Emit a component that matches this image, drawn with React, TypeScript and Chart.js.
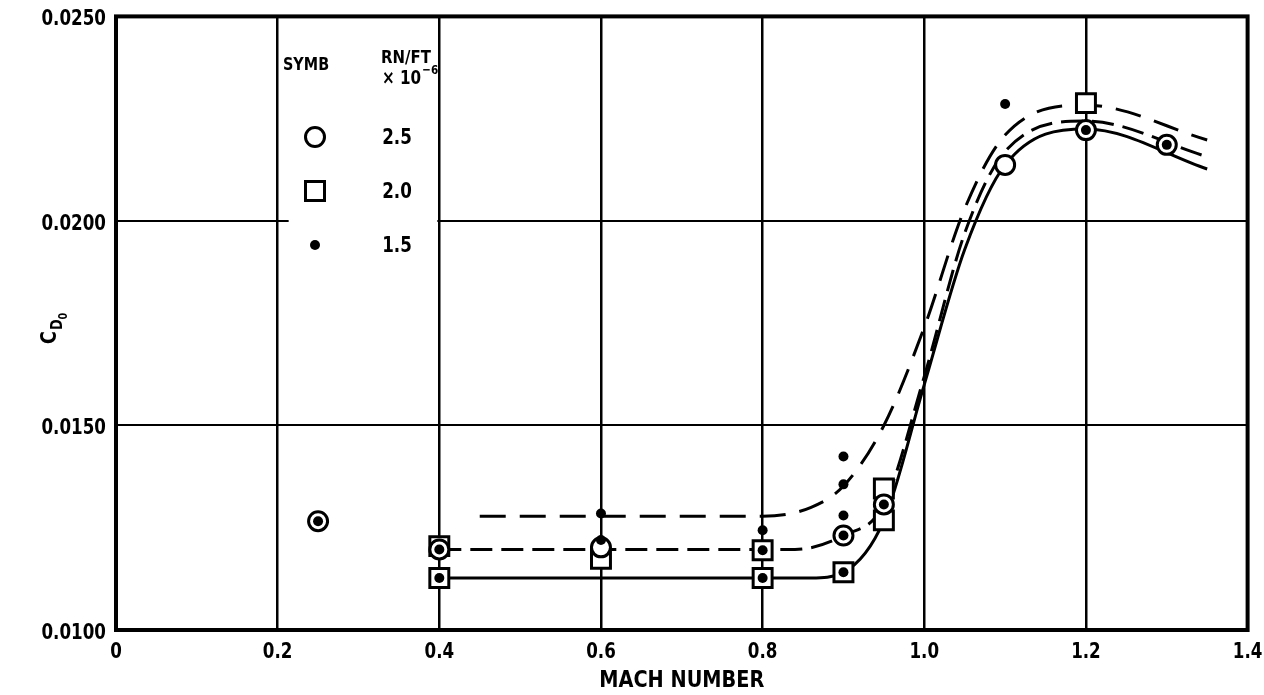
import React, { useEffect, useRef } from 'react';
import { Chart, registerables } from 'chart.js';

Chart.register(...registerables);

const FAMILY = '"DejaVu Sans", sans-serif';
const F = (size: number) => `bold ${size}px ${FAMILY}`;

// Axis tick labels
const xTickLabels = ['0', '0.2', '0.4', '0.6', '0.8', '1.0', '1.2', '1.4'];
const yTickLabels = ['0.0100', '0.0150', '0.0200', '0.0250'];

// RN/FT x 10^-6 = 2.5 (open circles)
const circleMach = [0.25, 0.4, 0.6, 0.9, 0.95, 1.1, 1.2, 1.3];
const circleCD0 = [0.01266, 0.01197, 0.01202, 0.01231, 0.01307, 0.02137, 0.02222, 0.02186];

// RN/FT x 10^-6 = 2.0 (squares)
const squareMach = [0.4, 0.4, 0.6, 0.8, 0.8, 0.9, 0.95, 0.95, 1.2];
const squareCD0 = [0.01205, 0.01127, 0.01174, 0.01195, 0.01127, 0.01141, 0.01346, 0.01268, 0.02288];

// RN/FT x 10^-6 = 1.5 (solid dots)
const dotMach = [0.25, 0.4, 0.4, 0.6, 0.6, 0.8, 0.8, 0.8, 0.9, 0.9, 0.9, 0.9, 0.9, 0.95, 1.1, 1.2, 1.3];
const dotCD0 = [0.01266, 0.01197, 0.01127, 0.01285, 0.0122, 0.01244, 0.01195, 0.01127, 0.01424, 0.01356, 0.0128, 0.01231, 0.01141, 0.01307, 0.02286, 0.02222, 0.02186];

// Faired curves
const longDashMach = [0.45, 0.8, 0.86, 0.9, 0.95, 1.0, 1.05, 1.1, 1.2, 1.35];
const longDashCD0 = [0.01278, 0.01278, 0.013, 0.01352, 0.015, 0.0174, 0.0203, 0.0221, 0.02283, 0.02198];

const shortDashMach = [0.4, 0.84, 0.9, 0.95, 1.0, 1.05, 1.1, 1.2, 1.35];
const shortDashCD0 = [0.01197, 0.01197, 0.01231, 0.01307, 0.0162, 0.0197, 0.0217, 0.02244, 0.02157];

const solidMach = [0.4, 0.86, 0.9, 0.95, 1.0, 1.05, 1.1, 1.2, 1.35];
const solidCD0 = [0.01127, 0.01127, 0.01141, 0.01268, 0.016, 0.0193, 0.02137, 0.02225, 0.02127];

// Legend
const legendSymbols = ['circle', 'square', 'dot'];
const legendValues = ['2.5', '2.0', '1.5'];

const pts = (xs: number[], ys: number[]) => xs.map((x, i) => ({ x, y: ys[i] }));

// draw horizontally-compressed bold text
function txt(ctx: CanvasRenderingContext2D, s: string, x: number, y: number, size: number, align: CanvasTextAlign, sx = 1, baseline: CanvasTextBaseline = 'middle') {
  ctx.save();
  ctx.translate(x, y);
  ctx.scale(sx, 1);
  ctx.font = F(size);
  ctx.textAlign = align;
  ctx.textBaseline = baseline;
  ctx.fillStyle = '#000';
  ctx.fillText(s, 0, 0);
  const w = ctx.measureText(s).width * sx;
  ctx.restore();
  return w;
}

const decor = {
  id: 'decor',
  beforeDatasetsDraw(chart: any) {
    const { ctx, chartArea: a, scales } = chart;
    ctx.save();
    const y = scales.y.getPixelForValue(0.02);
    const x1 = scales.x.getPixelForValue(0.2) + 11;
    const x2 = scales.x.getPixelForValue(0.4) - 2;
    ctx.fillStyle = '#fff';
    ctx.fillRect(x1, y - 4, x2 - x1, 8);
    ctx.strokeStyle = '#000';
    ctx.lineWidth = 4;
    ctx.strokeRect(a.left, a.top, a.right - a.left, a.bottom - a.top);
    ctx.restore();
  },
  afterDraw(chart: any) {
    const { ctx, chartArea: a, scales } = chart;
    ctx.save();
    ctx.fillStyle = '#000';
    ctx.strokeStyle = '#000';

    // Tick labels, placed by the chart's own scales
    scales.x.ticks.forEach((t: any, i: number) => {
      txt(ctx, xTickLabels[i], scales.x.getPixelForValue(t.value), 652, 22, 'center', 0.76);
    });
    scales.y.ticks.forEach((t: any, i: number) => {
      txt(ctx, yTickLabels[i], 106, scales.y.getPixelForValue(t.value) + 3, 22, 'right', 0.76);
    });

    // Y axis title C_D0 (rotated)
    ctx.save();
    ctx.translate(56, 344);
    ctx.rotate(-Math.PI / 2);
    const wc = txt(ctx, 'C', 0, 0, 22, 'left', 0.8, 'alphabetic');
    const wd = txt(ctx, 'D', wc + 1, 6, 16, 'left', 0.8, 'alphabetic');
    txt(ctx, '0', wc + wd + 1, 11, 12, 'left', 0.8, 'alphabetic');
    ctx.restore();

    // X axis title
    txt(ctx, 'MACH NUMBER', (a.left + a.right) / 2, 681, 23, 'center', 0.84);

    // Legend header
    txt(ctx, 'SYMB', 283, 65, 18, 'left', 0.8);
    txt(ctx, 'RN/FT', 406, 58, 18, 'center', 0.83);
    const w10 = txt(ctx, '\u00D7 10', 382, 79, 19, 'left', 0.8);
    txt(ctx, '\u22126', 382 + w10 + 1, 71, 13, 'left', 0.8);

    // Legend rows
    const rowsY = [137, 191, 245];
    legendSymbols.forEach((s, i) => {
      const cy = rowsY[i];
      const cx = 315;
      ctx.lineWidth = 3;
      if (s === 'circle') {
        ctx.beginPath();
        ctx.arc(cx, cy, 9.5, 0, Math.PI * 2);
        ctx.stroke();
      } else if (s === 'square') {
        ctx.strokeRect(cx - 9.5, cy - 9.5, 19, 19);
      } else {
        ctx.beginPath();
        ctx.arc(cx, cy, 5, 0, Math.PI * 2);
        ctx.fill();
      }
      txt(ctx, legendValues[i], 397, cy + 1, 22, 'center', 0.76);
    });
    ctx.restore();
  },
};

export default function App() {
  const ref = useRef<HTMLCanvasElement | null>(null);

  useEffect(() => {
    if (!ref.current) return;
    const lineBase = {
      type: 'line' as const,
      showLine: true,
      pointRadius: 0,
      pointHoverRadius: 0,
      borderColor: '#000',
      borderWidth: 3,
      fill: false,
      cubicInterpolationMode: 'monotone' as const,
    };
    const chart = new Chart(ref.current, {
      type: 'line',
      data: {
        datasets: [
          {
            label: '1.5',
            data: pts(dotMach, dotCD0),
            showLine: false,
            pointStyle: 'circle',
            pointRadius: 5,
            pointBackgroundColor: '#000',
            pointBorderColor: '#000',
            pointBorderWidth: 0,
          },
          {
            label: '2.5',
            data: pts(circleMach, circleCD0),
            showLine: false,
            pointStyle: 'circle',
            pointRadius: 9.5,
            pointBackgroundColor: '#fff',
            pointBorderColor: '#000',
            pointBorderWidth: 3,
          },
          {
            label: '2.0',
            data: pts(squareMach, squareCD0),
            showLine: false,
            pointStyle: 'rect',
            pointRadius: 13.4,
            pointBackgroundColor: '#fff',
            pointBorderColor: '#000',
            pointBorderWidth: 3,
          },
          { ...lineBase, label: 'solid', data: pts(solidMach, solidCD0) },
          { ...lineBase, label: 'short dash', data: pts(shortDashMach, shortDashCD0), borderDash: [22, 9] },
          { ...lineBase, label: 'long dash', data: pts(longDashMach, longDashCD0), borderDash: [26, 14] },
        ] as any,
      },
      options: {
        animation: false,
        responsive: false,
        events: [],
        layout: { padding: { left: 0, right: 16, top: 14, bottom: 0 } },
        plugins: { legend: { display: false }, tooltip: { enabled: false }, title: { display: false } },
        scales: {
          x: {
            type: 'linear',
            min: 0,
            max: 1.4,
            afterFit: (s: any) => { s.height = 65; },
            afterBuildTicks: (s: any) => {
              s.ticks = xTickLabels.map((_, i) => ({ value: i * 0.2 }));
            },
            ticks: { display: false },
            grid: { color: '#000', lineWidth: 2.5, drawTicks: false },
            border: { display: false },
          },
          y: {
            type: 'linear',
            min: 0.01,
            max: 0.025,
            afterFit: (s: any) => { s.width = 116; },
            afterBuildTicks: (s: any) => {
              s.ticks = yTickLabels.map((_, i) => ({ value: 0.01 + i * 0.005 }));
            },
            ticks: { display: false },
            grid: { color: '#000', lineWidth: 2, drawTicks: false },
            border: { display: false },
          },
        },
      } as any,
      plugins: [decor],
    });
    return () => chart.destroy();
  }, []);

  return (
    <div style={{ position: 'fixed', left: 0, top: 0, width: 1264, height: 695, background: '#fff' }}>
      <canvas ref={ref} width={1264} height={695} style={{ width: 1264, height: 695, display: 'block' }} />
    </div>
  );
}
